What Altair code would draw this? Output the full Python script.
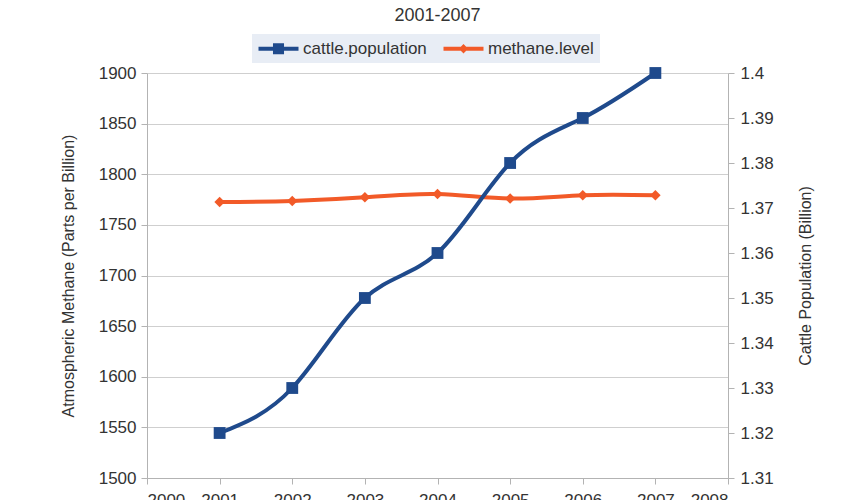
import altair as alt
import pandas as pd

years = [2001, 2002, 2003, 2004, 2005, 2006, 2007]
cattle_population = [1.32, 1.33, 1.35, 1.36, 1.38, 1.39, 1.40]
methane_level = [1772.6, 1773.6, 1777.2, 1780.5, 1776.0, 1779.2, 1779.2]
series_names = ["cattle.population", "methane.level"]
series_colors = ["#1f4a8c", "#f25a28"]
x_ticks = [2000, 2001, 2002, 2003, 2004, 2005, 2006, 2007, 2008]
methane_ticks = [1500, 1550, 1600, 1650, 1700, 1750, 1800, 1850, 1900]
cattle_ticks = [1.31, 1.32, 1.33, 1.34, 1.35, 1.36, 1.37, 1.38, 1.39, 1.40]

# legend glyphs: line segment with marker (normalised to symbol radius)
legend_shapes = [
    "M-2.5,-0.25H2.5V0.25H-2.5Z M-0.69,-0.69H0.69V0.69H-0.69Z",
    "M-2.5,-0.25H2.5V0.25H-2.5Z M0,-0.58L0.58,0L0,0.58L-0.58,0Z",
]

df = pd.DataFrame({"year": years, "cattle": cattle_population, "methane": methane_level})
legend_df = pd.DataFrame({"series": series_names})

FONT = "Liberation Sans"
TXT = "#333333"
AX = "#b3b3b3"

x_enc = alt.X(
    "year:Q",
    scale=alt.Scale(domain=[2000, 2008], nice=False, zero=False),
    axis=alt.Axis(values=x_ticks, format="d", title=None, grid=False,
                  tickSize=6, labelPadding=8, labelFontSize=17, labelColor=TXT,
                  domainColor=AX, tickColor=AX),
)

y_methane = alt.Y(
    "methane:Q",
    scale=alt.Scale(domain=[1500, 1900], nice=False, zero=False),
    axis=alt.Axis(values=methane_ticks, format="d", title="Atmospheric Methane (Parts per Billion)",
                  grid=True, gridColor="#cfcfcf", tickSize=6, labelPadding=5,
                  labelFontSize=17, labelColor=TXT, titleFontSize=16,
                  titleFontWeight="normal", titleColor=TXT, titlePadding=22,
                  domainColor=AX, tickColor=AX),
)

y_cattle = alt.Y(
    "cattle:Q",
    scale=alt.Scale(domain=[1.31, 1.40], nice=False, zero=False),
    axis=alt.Axis(values=cattle_ticks, format=".2~f", orient="right",
                  title="Cattle Population (Billion)", grid=False, tickSize=6,
                  labelPadding=6, labelFontSize=17, labelColor=TXT,
                  titleFontSize=16, titleFontWeight="normal", titleColor=TXT,
                  titleAngle=270, titlePadding=40, domainColor=AX, tickColor=AX),
)

base = alt.Chart(df)

methane_line = base.mark_line(interpolate="natural", strokeWidth=4, color=series_colors[1]).encode(
    x=x_enc, y=y_methane)
methane_pts = base.mark_point(shape="diamond", filled=True, size=110, opacity=1,
                              color=series_colors[1]).encode(x=x_enc, y=y_methane)

leg = alt.Legend(
    orient="none", legendX=105, legendY=-39, direction="horizontal", title=None,
    fillColor="#e8edf5", padding=6, columnPadding=16, labelOffset=16,
    symbolSize=256, symbolOffset=12, symbolStrokeWidth=0, symbolOpacity=1,
    labelFontSize=17, labelColor=TXT, labelFont=FONT,
)
legend_layer = alt.Chart(legend_df).mark_point(filled=True, opacity=0).encode(
    color=alt.Color("series:N", scale=alt.Scale(domain=series_names, range=series_colors), legend=leg),
    shape=alt.Shape("series:N", scale=alt.Scale(domain=series_names, range=legend_shapes), legend=leg),
)

cattle_line = base.mark_line(interpolate="natural", strokeWidth=4, color=series_colors[0]).encode(
    x=x_enc, y=y_cattle)
cattle_pts = base.mark_square(size=140, opacity=1, color=series_colors[0]).encode(
    x=x_enc, y=y_cattle)

left = alt.layer(methane_line, methane_pts, legend_layer)
right = alt.layer(cattle_line, cattle_pts)

chart = alt.layer(left, right).resolve_scale(y="independent").properties(
    width=581, height=405,
    title=alt.Title("2001-2007", fontSize=18, fontWeight="normal", color=TXT, font=FONT, dy=-5),
    padding={"left": 147, "top": 73, "right": 132, "bottom": 22},
    autosize=alt.AutoSizeParams(type="none"),
).configure(font=FONT).configure_view(stroke=None)

chart.save("out.html", embed_options={"renderer": "svg", "actions": False})
